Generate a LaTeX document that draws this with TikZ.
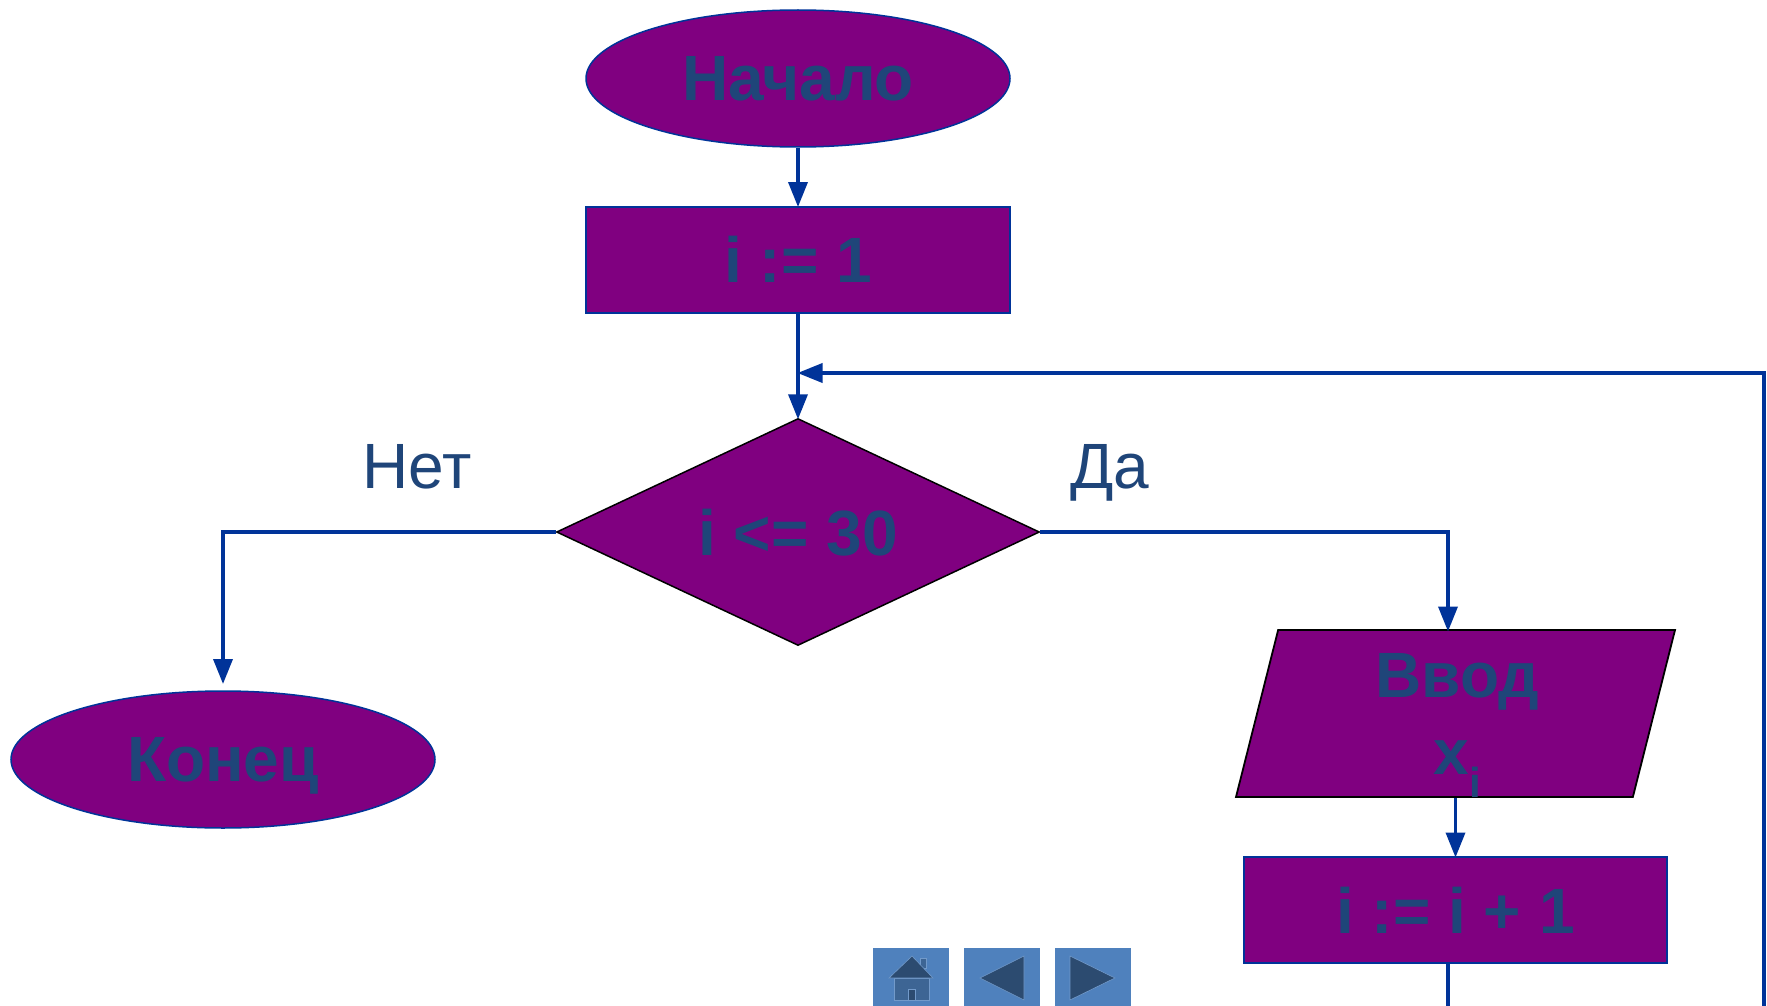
\documentclass[tikz,border=0pt]{standalone}
\usepackage{fontspec}
\setmainfont{Liberation Sans}
\usetikzlibrary{shapes.geometric,arrows.meta}
\definecolor{fillp}{HTML}{800080}
\definecolor{txtc}{HTML}{1F4579}
\definecolor{linec}{HTML}{003399}
\definecolor{btn}{HTML}{4F81BD}
\definecolor{btnd}{HTML}{2C4B70}
\definecolor{btnm}{HTML}{3D6594}
\tikzset{
  base/.style={fill=fillp,text=txtc,font=\fontsize{64}{77}\selectfont\bfseries,inner sep=0pt,align=center,text depth=0pt},
  term/.style={base,ellipse,draw=linec,line width=1.5pt,minimum width=424pt,minimum height=137pt},
  proc/.style={base,rectangle,draw=linec,line width=2pt,minimum width=423.5pt,minimum height=106pt},
  deci/.style={base,diamond,draw=black,line width=1.5pt,minimum width=483pt,minimum height=227pt,aspect=2.13},
  inout/.style={base,trapezium,trapezium stretches body=true,trapezium left angle=70.8,trapezium right angle=109.2,draw=black,line width=1.8pt,minimum width=439pt,minimum height=167pt},
  conn/.style={draw=linec,line width=3.6pt},
  arr/.style={conn,shorten >=-1.5pt,-{Triangle[length=25pt,width=19pt]}},
  lab/.style={text=txtc,font=\fontsize{64}{77}\selectfont,inner sep=0pt,anchor=base},
  btnbox/.style={rectangle,fill=btn,draw=none,minimum width=76pt,minimum height=58pt,inner sep=0pt},
  darkshape/.style={fill=btnd,draw=btn!80!white,line width=0.6pt},
  midshape/.style={fill=btnm,draw=btn!80!white,line width=0.6pt}
}
\begin{document}
\begin{tikzpicture}[x=1pt,y=-1pt]
\useasboundingbox (0,0) rectangle (1767,1006);
\node[term] (start) at (798,78.5) {Начало};
\node[proc] (init) at (798,259.5) {i := 1};
\node[deci] (dec) at (798,532) {i <= 30};
\node[term] (end) at (223,759.5) {Конец};
\node[inout] (input) at (1455.5,713.5) {\hspace*{4pt}Ввод\\\hspace*{4pt}x\raisebox{-23pt}{\fontsize{42}{42}\selectfont i}};
\node[proc] (inc) at (1455.5,910) {i := i + 1};
\node[lab] (no) at (417,488) {Нет};
\node[lab] (yes) at (1110,488) {Да};
\coordinate (endtip) at (223,682.5);
\coordinate (inputin) at (1448,630);
\coordinate (incout) at (1448,1006);
\coordinate (loopb) at (1764,1006);
\coordinate (looptip) at (799,373);
\coordinate (looptop) at (1764,373);
\draw[arr] (start.south) -- (init.north);
\draw[arr] (init.south) -- (dec.north);
\draw[arr] (dec.west) -| (endtip);
\draw[arr] (dec.east) -| (inputin);
\draw[arr] (input.south -| inc.north) -- (inc.north);
\draw[conn] (inc.south -| incout) -- (incout);
\draw[arr] (loopb) -- (looptop) -- (looptip);
\node[btnbox] (home) at (911,977) {};
\node[btnbox] (back) at (1002,977) {};
\node[btnbox] (next) at (1093,977) {};
\draw[midshape] (920,968) -- (920,958) -- (926,958) -- (926,968) -- cycle;
\draw[midshape] (894,978) rectangle (929,1000);
\draw[darkshape] (912,956) -- (933,978) -- (889,978) -- cycle;
\draw[darkshape] (908,989) rectangle (915,1000);
\draw[darkshape] (980,978) -- (1024,956) -- (1024,1000) -- cycle;
\draw[darkshape] (1115,978) -- (1070,956) -- (1070,1000) -- cycle;
\end{tikzpicture}
\end{document}
